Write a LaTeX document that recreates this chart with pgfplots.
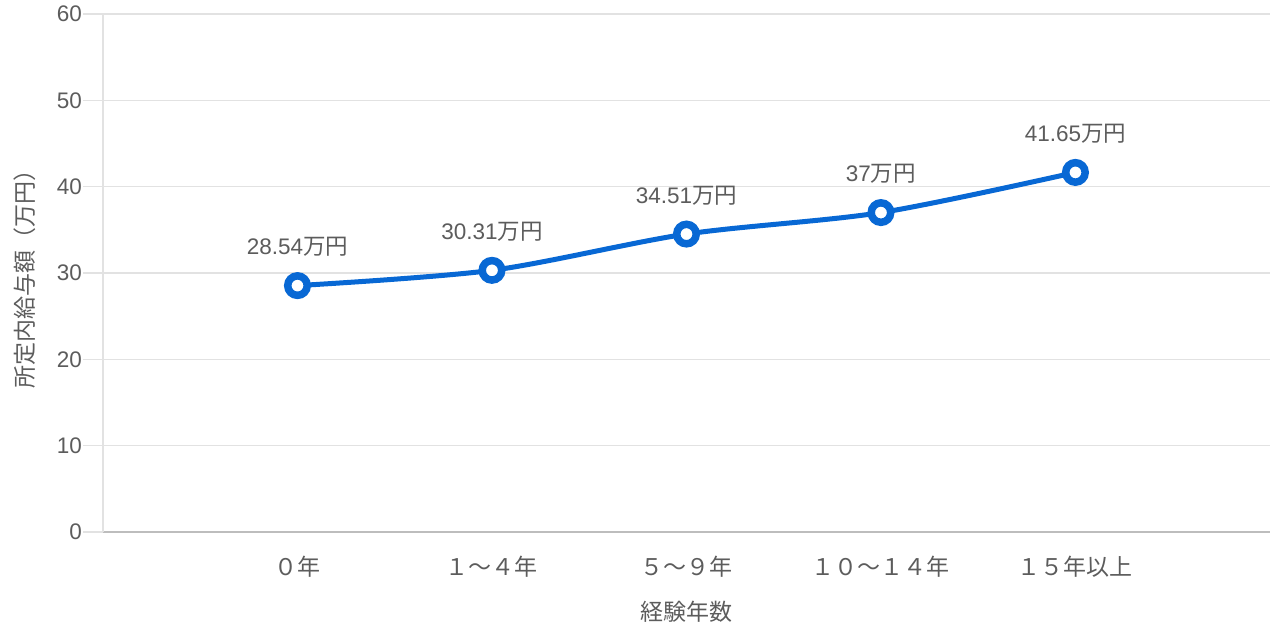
\documentclass[border=0pt]{standalone}
\usepackage{pgfplots}
\pgfplotsset{compat=1.18}
\usepackage{fontspec}
\setmainfont{Liberation Sans}
\newfontfamily\cjk{Noto Sans CJK JP}
\definecolor{linec}{HTML}{0868D4}
\definecolor{txt}{HTML}{5C5C5C}
\definecolor{gridc}{HTML}{E2E2E2}
\definecolor{axisc}{HTML}{BDBDBD}

\begin{document}
\begin{tikzpicture}
\begin{axis}[
  scale only axis, width=1167pt, height=518pt,
  xmin=-1, xmax=5, ymin=0, ymax=60,
  xtick={0,1,2,3,4},
  xticklabels={０年,１～４年,５～９年,１０～１４年,１５年以上},
  ytick={0,10,...,60},
  axis x line*=bottom, axis y line*=left,
  x axis line style={axisc, line width=1.5pt},
  y axis line style={gridc, line width=1.5pt},
  ymajorgrids, grid style={gridc, line width=1.3pt},
  tick align=outside, major tick length=20pt,
  ytick style={gridc, line width=1.3pt},
  xtick style={draw=none},
  /pgf/number format/assume math mode=true,
  yticklabel style={font=\fontsize{22.5}{26}\selectfont, text=txt, inner sep=1pt},
  xticklabel style={font=\cjk\fontsize{23}{26}\selectfont, text=txt, yshift=-1pt},
  xlabel={経験年数},
  ylabel={所定内給与額（万円）},
  label style={font=\cjk\fontsize{23}{26}\selectfont, text=txt},
  xlabel style={yshift=-16pt},
  ylabel style={yshift=17pt},
  nodes near coords={\pgfmathprintnumber[fixed,precision=2]{\pgfplotspointmeta}{\cjk 万円}},
  every node near coord/.append style={font=\fontsize{22.5}{26}\selectfont, text=txt, yshift=22pt},
]
\addplot[linec, line width=5pt, smooth, mark=*, mark size=9.75pt,
  mark options={fill=white, draw=linec, line width=7.5pt}]
  coordinates {(0,28.54) (1,30.31) (2,34.51) (3,37) (4,41.65)};
\end{axis}
\path[use as bounding box] (current axis.south west) ++(-103pt,-106pt) rectangle ++(1276pt,638pt);
\end{tikzpicture}
\end{document}
